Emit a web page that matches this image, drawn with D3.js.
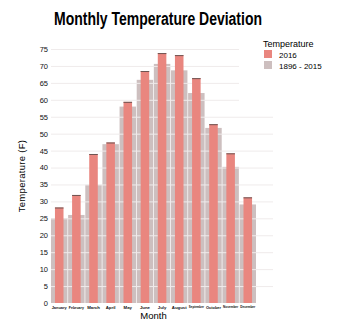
<!DOCTYPE html>
<html>
<head>
<meta charset="utf-8">
<script src="https://cdn.jsdelivr.net/npm/d3@7"></script>
<style>
  body { margin: 0; background: #fff; }
  text { font-family: "Liberation Sans Narrow", "Liberation Sans", Arial, sans-serif; }
</style>
</head>
<body>
<script>
// monthly averages, degrees F
const months = ["January", "February", "March", "April", "May", "June",
                "July", "August", "September", "October", "November", "December"];
const temps2016 = [28.2, 31.9, 44.0, 47.4, 59.4, 68.5, 73.8, 73.2, 66.4, 52.8, 44.2, 31.2];
const tempsHistoric = [25.0, 26.0, 34.9, 46.9, 58.0, 65.9, 70.6, 68.7, 62.0, 51.7, 40.2, 29.1];
const seriesNames = ["2016", "1896 - 2015"];
const yTicks = d3.range(0, 80, 5);

const width = 341, height = 329;
const margin = { top: 49, left: 51, bottom: 26 };
const plotRight = 256, gridRight = 273;

const svg = d3.select("body").append("svg")
    .attr("width", width)
    .attr("height", height);

const x = d3.scaleBand()
    .domain(months)
    .range([margin.left, plotRight])
    .paddingInner(0.04);

const y = d3.scaleLinear()
    .domain([0, 75])
    .range([height - margin.bottom, margin.top]);

const colors = { recent: "#e9867f", past: "#cdbfbf" };

// long-term average behind everything
svg.append("g")
    .selectAll("rect")
    .data(tempsHistoric)
    .join("rect")
    .attr("x", (d, i) => x(months[i]))
    .attr("y", d => y(d))
    .attr("width", x.bandwidth())
    .attr("height", d => y(0) - y(d))
    .attr("fill", colors.past);

// gridlines sit over the grey but under the 2016 bars
svg.append("g")
    .selectAll("line")
    .data(yTicks.filter(d => d > 0))
    .join("line")
    .attr("x1", margin.left)
    .attr("x2", gridRight)
    .attr("y1", d => y(d) + 0.5)
    .attr("y2", d => y(d) + 0.5)
    .attr("stroke", "#efebeb")
    .attr("stroke-width", 1);

const barW = x.bandwidth() * 0.52;
const bars = svg.append("g");
bars.selectAll("rect")
    .data(temps2016)
    .join("rect")
    .attr("x", (d, i) => x(months[i]) + (x.bandwidth() - barW) / 2)
    .attr("y", d => y(d))
    .attr("width", barW)
    .attr("height", d => y(0) - y(d))
    .attr("fill", colors.recent);

// dark cap on top of each 2016 bar
bars.selectAll("line")
    .data(temps2016)
    .join("line")
    .attr("x1", (d, i) => x(months[i]) + (x.bandwidth() - barW) / 2)
    .attr("x2", (d, i) => x(months[i]) + (x.bandwidth() + barW) / 2)
    .attr("y1", d => y(d) + 0.5)
    .attr("y2", d => y(d) + 0.5)
    .attr("stroke", "#6e5452")
    .attr("stroke-width", 1);

// y axis: labels only
const yAxis = svg.append("g")
    .attr("transform", `translate(${margin.left},0)`)
    .call(d3.axisLeft(y).tickValues(yTicks).tickSize(0).tickPadding(3));
yAxis.select(".domain").remove();
yAxis.selectAll("text")
    .style("font-family", "'Liberation Sans', Arial, sans-serif")
    .style("font-size", "7.5px")
    .attr("fill", "#111");

// x axis: tiny month names, long ones shrunk to fit their band
const xAxis = svg.append("g")
    .attr("transform", `translate(0,${y(0)})`)
    .call(d3.axisBottom(x).tickSize(0).tickPadding(3));
xAxis.select(".domain").remove();
const labelSize = 4.3;
const maxLabel = x.step() - 2;
xAxis.selectAll("text")
    .style("font-family", "'Liberation Sans', Arial, sans-serif")
    .style("font-size", labelSize + "px")
    .style("font-weight", "bold")
    .attr("fill", "#111")
    .each(function () {
        const w = this.getComputedTextLength();
        if (w > maxLabel) {
            d3.select(this).style("font-size", (labelSize * maxLabel / w).toFixed(2) + "px");
        }
    });

svg.append("text")
    .attr("x", (margin.left + plotRight) / 2)
    .attr("y", 319)
    .attr("text-anchor", "middle")
    .style("font-family", "'Liberation Sans', Arial, sans-serif")
    .style("font-size", "9.5px")
    .text("Month");

svg.append("text")
    .attr("transform", `translate(25,${(y(0) + y(75)) / 2}) rotate(-90)`)
    .attr("text-anchor", "middle")
    .style("font-family", "'Liberation Sans', Arial, sans-serif")
    .style("font-size", "9.5px")
    .style("letter-spacing", "0.3px")
    .text("Temperature (F)");

svg.append("text")
    .attr("x", 54)
    .attr("y", 25)
    .attr("textLength", 208)
    .attr("lengthAdjust", "spacingAndGlyphs")
    .style("font-size", "18px")
    .style("font-weight", "bold")
    .text("Monthly Temperature Deviation");

// legend, with a white backing that hides the gridline ends
const legend = svg.append("g");
legend.append("rect")
    .attr("x", 239).attr("y", 34)
    .attr("width", width - 239).attr("height", 73)
    .attr("fill", "#fff");
legend.append("text")
    .attr("x", 263).attr("y", 47)
    .style("font-family", "'Liberation Sans', Arial, sans-serif")
    .style("font-size", "9px")
    .text("Temperature");
const items = legend.selectAll("g.item")
    .data(seriesNames)
    .join("g")
    .attr("class", "item")
    .attr("transform", (d, i) => `translate(264,${50 + i * 11})`);
items.append("rect")
    .attr("width", 8).attr("height", 8)
    .attr("fill", (d, i) => i === 0 ? colors.recent : colors.past);
items.append("text")
    .attr("x", 15).attr("y", 7.5)
    .style("font-family", "'Liberation Sans', Arial, sans-serif")
    .style("font-size", "8px")
    .text(d => d);
</script>
</body>
</html>
